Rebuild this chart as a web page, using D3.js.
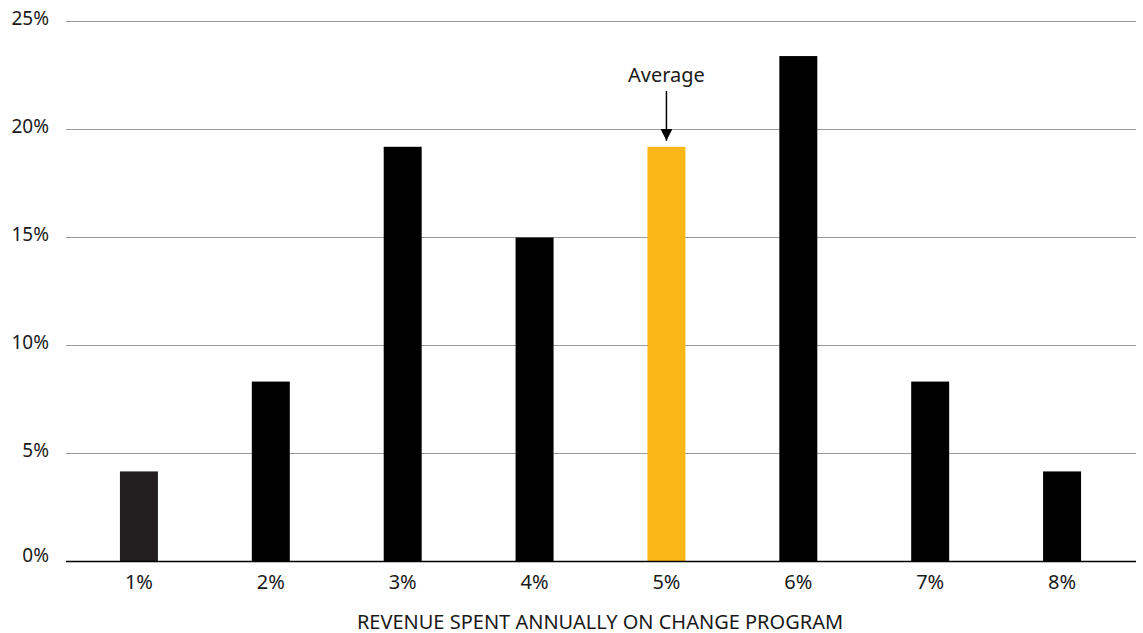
<!DOCTYPE html>
<html>
<head>
  <meta charset="utf-8">
  <title>Revenue spent annually on change program</title>
  <script src="https://d3js.org/d3.v7.min.js"></script>
  <style>
    body { margin: 0; background: #fff; }
    text { font-family: "Noto Sans", "Open Sans", sans-serif; fill: #1a1a1a; }
  </style>
</head>
<body>
  <svg id="chart"></svg>
  <script>
    // Data
    const categories = ["1%", "2%", "3%", "4%", "5%", "6%", "7%", "8%"];
    const shares = [4.17, 8.33, 19.2, 15.0, 19.2, 23.4, 8.33, 4.17];
    const yTicks = [0, 5, 10, 15, 20, 25];
    const averageCategory = "5%";

    const width = 1143, height = 633;

    const svg = d3.select("#chart")
      .attr("width", width)
      .attr("height", height);

    const x = d3.scaleBand()
      .domain(categories)
      .range([73, 1128])
      .paddingInner(0.712)
      .paddingOuter(0.356);

    const y = d3.scaleLinear()
      .domain([0, 25])
      .range([561.5, 21.5]);

    // Gridlines
    svg.append("g")
      .selectAll("line")
      .data(yTicks.filter(d => d > 0))
      .enter().append("line")
      .attr("x1", 66)
      .attr("x2", 1136)
      .attr("y1", d => y(d))
      .attr("y2", d => y(d))
      .attr("stroke", "#9a9a9a")
      .attr("stroke-width", 1);

    // Y tick labels
    svg.append("g")
      .selectAll("text")
      .data(yTicks)
      .enter().append("text")
      .attr("x", 49)
      .attr("y", d => y(d) + (d === 0 ? 0.5 : 3.5))
      .attr("text-anchor", "end")
      .style("font-size", "19px")
      .text(d => d + "%");

    // Bars
    svg.append("g")
      .selectAll("rect")
      .data(categories)
      .enter().append("rect")
      .attr("x", d => x(d))
      .attr("width", x.bandwidth())
      .attr("y", (d, i) => y(shares[i]))
      .attr("height", (d, i) => y(0) - y(shares[i]))
      .attr("fill", (d, i) => d === averageCategory ? "#fbb617" : (i === 0 ? "#231f20" : "#000"));

    // Baseline / x axis
    const xAxis = d3.axisBottom(x).tickSize(0).tickPadding(12);
    const gx = svg.append("g")
      .attr("transform", `translate(0,${y(0)})`)
      .call(xAxis);
    gx.select(".domain").remove();
    gx.selectAll("text")
      .attr("dy", null)
      .attr("y", 27)
      .style("font-size", "20px")
      .style("font-family", "'Noto Sans', sans-serif")
      .attr("fill", "#1a1a1a");
    svg.append("line")
      .attr("x1", 66)
      .attr("x2", 1136)
      .attr("y1", y(0))
      .attr("y2", y(0))
      .attr("stroke", "#000")
      .attr("stroke-width", 1.5);

    // Axis title
    svg.append("text")
      .attr("x", 600)
      .attr("y", 628.5)
      .attr("text-anchor", "middle")
      .style("font-size", "20px")
      .text("REVENUE SPENT ANNUALLY ON CHANGE PROGRAM");

    // Average annotation
    const ax = x(averageCategory) + x.bandwidth() / 2;
    const avgIdx = categories.indexOf(averageCategory);
    svg.append("defs").append("marker")
      .attr("id", "arrow")
      .attr("viewBox", "0 0 12 12")
      .attr("refX", 6)
      .attr("refY", 12)
      .attr("markerWidth", 12)
      .attr("markerHeight", 12)
      .attr("markerUnits", "userSpaceOnUse")
      .attr("orient", "0")
      .append("path")
      .attr("d", "M0,0 L12,0 L6,12 Z")
      .attr("fill", "#000");
    svg.append("line")
      .attr("x1", ax)
      .attr("x2", ax)
      .attr("y1", 91)
      .attr("y2", y(shares[avgIdx]) - 6)
      .attr("stroke", "#000")
      .attr("stroke-width", 1.5)
      .attr("marker-end", "url(#arrow)");
    svg.append("text")
      .attr("x", ax)
      .attr("y", 82)
      .attr("text-anchor", "middle")
      .style("font-size", "20px")
      .text("Average");
  </script>
</body>
</html>
